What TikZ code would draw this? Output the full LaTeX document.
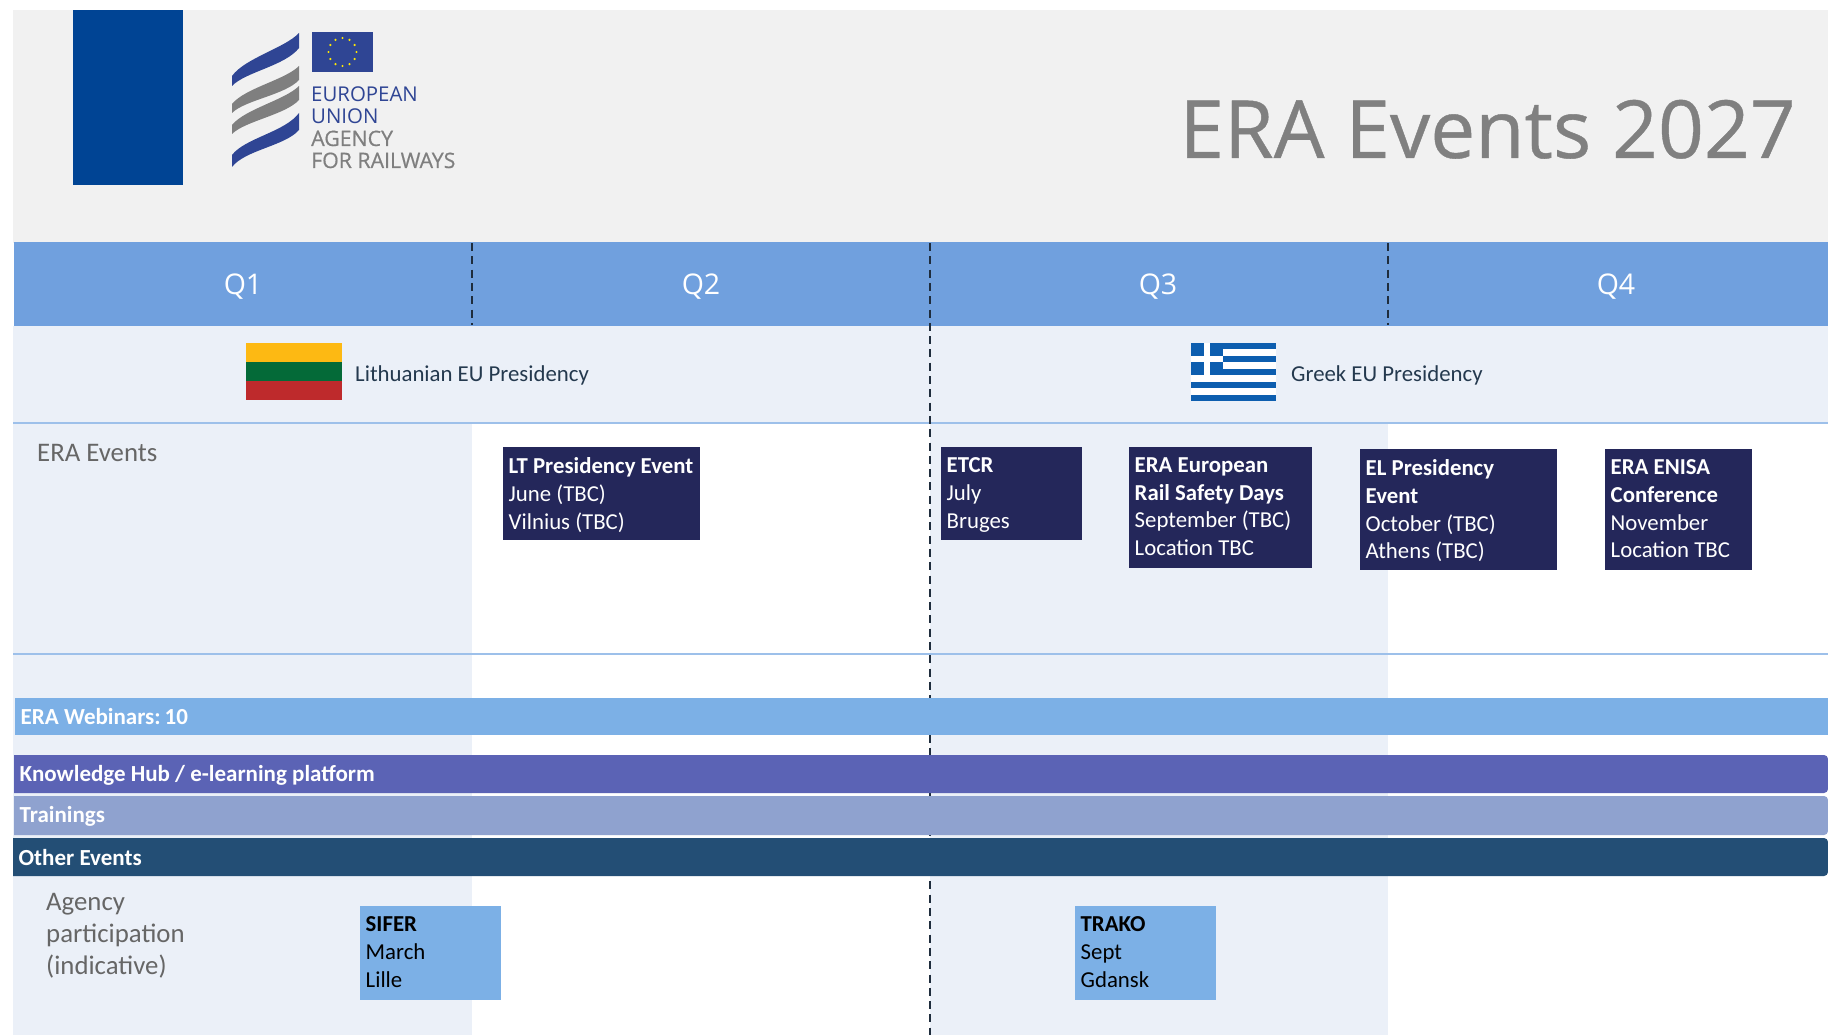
\documentclass[tikz,border=0pt]{standalone}
\usepackage{fontspec}
\usetikzlibrary{calc}
\setmainfont{Carlito}
\newfontfamily\titlefont{Open Sans}
\newfontfamily\titleheavy[FakeBold=0.5]{Open Sans}
\newfontfamily\logogreyfont[FakeBold=0.6]{Open Sans}
\definecolor{headgrey}{HTML}{F1F1F1}
\definecolor{qband}{HTML}{70A0DE}
\definecolor{palecol}{HTML}{EBF0F8}
\definecolor{rulecol}{HTML}{9DC0EA}
\definecolor{navybox}{HTML}{24275A}
\definecolor{webbar}{HTML}{7CB0E6}
\definecolor{hubbar}{HTML}{5B63B5}
\definecolor{trainbar}{HTML}{8FA2CF}
\definecolor{otherbar}{HTML}{234E75}
\definecolor{logoblue}{HTML}{2F4594}
\definecolor{logogrey}{HTML}{7F7F7F}
\definecolor{darktext}{HTML}{24394E}
\definecolor{greytext}{HTML}{666666}
\definecolor{titlegrey}{HTML}{808080}
\definecolor{dblue}{HTML}{004494}
\definecolor{grblue}{HTML}{0D5EAF}
\definecolor{ltyellow}{HTML}{FDB913}
\definecolor{ltgreen}{HTML}{046A38}
\definecolor{ltred}{HTML}{BE2A2C}
\definecolor{dashcol}{HTML}{1F2D3D}
\tikzset{
  x=1pt,y=-1pt,
  rectnode/.style={anchor=north west,inner sep=0pt,outer sep=0pt,draw=none},
  qlabel/.style={text=white,font=\titlefont\fontsize{28.5}{32}\selectfont,inner sep=0pt},
  presid/.style={text=darktext,font=\fontsize{22.8}{27}\selectfont,anchor=west,inner sep=0pt},
  rowlabel/.style={text=greytext,font=\fontsize{26.8}{32.2}\selectfont,anchor=north west,align=left,inner sep=0pt},
  barlabel/.style={text=white,font=\bfseries\fontsize{23}{27}\selectfont,anchor=west,inner sep=0pt},
  boxtext/.style={anchor=north west,align=left,inner sep=0pt,font=\fontsize{22.8}{27.7}\selectfont},
  qdash/.style={dashed,dashcol,line width=1.6pt,dash pattern=on 8pt off 5.3pt},
  logotext/.style={anchor=base west,inner sep=0pt,font=\titlefont\fontsize{20.4}{22}\selectfont},
  logotextb/.style={anchor=base west,inner sep=0pt,font=\logogreyfont\fontsize{21.3}{22}\selectfont},
}
\newcommand{\evbox}[8]{% name x y w h fill textcolor text
  \node[rectnode,fill=#6,minimum width=#4pt,minimum height=#5pt] (#1) at (#2,#3) {};
  \node[boxtext,text=#7] (#1t) at ([xshift=5.5pt,yshift=-10.5pt]#1.north west) {#8};
}
\newcommand{\fullbar}[6]{% name x y h fill text
  \node[rectnode,fill=#5,minimum width={1828pt-#2pt},minimum height=#4pt] (#1) at (#2,#3) {};
  \node[barlabel] (#1t) at ([xshift=5.5pt,yshift=-0.5pt]#1.west) {#6};
}
\newcommand{\roundbar}[6]{% square at the left, small rounding at the right
  \node[rectnode,minimum width={1828pt-#2pt},minimum height=#4pt] (#1) at (#2,#3) {};
  \fill[#5] (#1.north west) [rounded corners=4pt] -- (#1.north east) -- (#1.south east) [sharp corners] -- (#1.south west) -- cycle;
  \node[barlabel] (#1t) at ([xshift=5.5pt,yshift=-1pt]#1.west) {#6};
}
\begin{document}
\begin{tikzpicture}
\useasboundingbox (0,0) rectangle (1828,1035);
\fill[white] (0,0) rectangle (1828,1035);
% backgrounds
\fill[headgrey] (13,10) rectangle (1828,243);
\fill[palecol] (13,326) rectangle (1828,423);
\fill[palecol] (13,423) rectangle (472,1035);
\fill[palecol] (930,423) rectangle (1388,1035);
\node[rectnode,fill=dblue,minimum width=110pt,minimum height=175pt] (bluerect) at (73,10) {};
% logo
\fill[logoblue] (232,86) .. controls (245,72) and (285,66) .. (299,48) -- (299,33) .. controls (285,48) and (245,58) .. (232,76) -- cycle;
\fill[logogrey] (232,113) .. controls (245,100) and (285,95) .. (299,80) -- (299,66) .. controls (285,80) and (245,88) .. (232,104) -- cycle;
\fill[logogrey] (232,134) .. controls (245,121) and (285,115) .. (299,100) -- (299,86) .. controls (285,100) and (245,109) .. (232,125) -- cycle;
\fill[logoblue] (232,167) .. controls (245,150) and (285,146) .. (299,130) -- (299,113) .. controls (285,132) and (245,138) .. (232,155) -- cycle;
\node[rectnode,fill=logoblue,minimum width=61pt,minimum height=40pt] (euflag) at (312,32) {};
\foreach \a in {0,30,...,330} \fill[yellow!90!orange] ($(euflag.center)+(\a:14)$) circle (1.2);
\node[logotext,text=logoblue] (lg1) at (311,102) {EUROPEAN};
\node[logotext,text=logoblue] (lg2) at (311,124) {UNION};
\node[logotextb,text=logogrey] (lg3) at (311,146) {AGENCY};
\node[logotextb,text=logogrey] (lg4) at (311,168) {FOR RAILWAYS};
% title
\node[anchor=base east,inner sep=0pt,text=titlegrey,font=\titleheavy\fontsize{80.3}{90}\selectfont] (title) at (1796,158) {ERA Events 2027};
% quarter band
\node[rectnode,fill=qband,minimum width=1814pt,minimum height=84pt] (qb) at (14,242) {};
\node[qlabel] (q1) at (243,287) {Q1};
\node[qlabel] (q2) at (701,287) {Q2};
\node[qlabel] (q3) at (1158,287) {Q3};
\node[qlabel] (q4) at (1616,287) {Q4};
% rules
\coordinate (r1a) at (13,423); \coordinate (r1b) at (1828,423);
\coordinate (r2a) at (13,654); \coordinate (r2b) at (1828,654);
\draw[rulecol,line width=2.4pt] (r1a) -- (r1b);
\draw[rulecol,line width=2.4pt] (r2a) -- (r2b);
% dashed
\coordinate (d1a) at (472,243); \coordinate (d1b) at (472,325);
\coordinate (d2a) at (930,243); \coordinate (d2b) at (930,1035);
\coordinate (d3a) at (1388,243); \coordinate (d3b) at (1388,325);
\draw[qdash] (d1a) -- (d1b);
\draw[qdash] (d2a) -- (d2b);
\draw[qdash] (d3a) -- (d3b);
% flags
\node[rectnode,fill=ltyellow,minimum width=96pt,minimum height=20pt] (lt1) at (246,343) {};
\node[rectnode,fill=ltgreen,minimum width=96pt,minimum height=19pt] (lt2) at (246,362) {};
\node[rectnode,fill=ltred,minimum width=96pt,minimum height=19pt] (lt3) at (246,381) {};
\fill[white] (1191,343) rectangle (1276,401);
\foreach \i in {0,2,4,6,8} \fill[grblue] (1191,343+\i*6.44) rectangle (1276,343+\i*6.44+6.44);
\fill[grblue] (1191,343) rectangle (1223,375);
\fill[white] (1204,343) rectangle (1210,375);
\fill[white] (1191,356) rectangle (1223,362);
\node[presid] (ltp) at (355,375) {Lithuanian EU Presidency};
\node[presid] (grp) at (1291,375) {Greek EU Presidency};
% row labels
\node[rowlabel] (erarow) at (37,444) {ERA Events};
\node[rowlabel] (agency) at (46,893) {Agency\\participation\\(indicative)};
% events
\evbox{lt}{503}{447}{197}{93}{navybox}{white}{\textbf{LT Presidency Event}\\June (TBC)\\Vilnius (TBC)}
\evbox{etcr}{941}{447}{141}{93}{navybox}{white}{\textbf{ETCR}\\July\\Bruges}
\evbox{ersd}{1129}{447}{183}{121}{navybox}{white}{\textbf{ERA European}\\\textbf{Rail Safety Days}\\September (TBC)\\Location TBC}
\evbox{el}{1360}{449}{197}{121}{navybox}{white}{\textbf{EL Presidency}\\\textbf{Event}\\October (TBC)\\Athens (TBC)}
\evbox{enisa}{1605}{449}{147}{121}{navybox}{white}{\textbf{ERA ENISA}\\\textbf{Conference}\\November\\Location TBC}
% bars
\fullbar{web}{15}{698}{37}{webbar}{ERA Webinars:\kern-3pt{} 10}
\roundbar{hub}{14}{755}{38}{hubbar}{Knowledge Hub / e-learning platform}
\roundbar{train}{14}{796}{39}{trainbar}{Trainings}
\roundbar{other}{13}{838}{38}{otherbar}{Other Events}
% agency
\evbox{sifer}{360}{906}{141}{94}{webbar}{black}{\textbf{SIFER}\\March\\Lille}
\evbox{trako}{1075}{906}{141}{94}{webbar}{black}{\textbf{TRAKO}\\Sept\\Gdansk}
\end{tikzpicture}
\end{document}
